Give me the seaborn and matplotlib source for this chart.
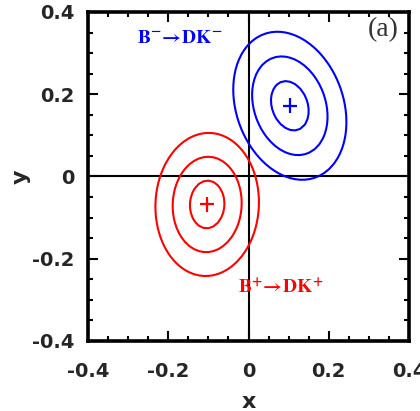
import numpy as np
import pandas as pd
import matplotlib
matplotlib.use("Agg")
import matplotlib.pyplot as plt
import seaborn as sns
from matplotlib.ticker import MultipleLocator, FixedLocator

# ---- data ----
modes = ["B+ -> DK+", "B- -> DK-"]
center_x = [-0.103, 0.103]
center_y = [-0.068, 0.172]
sigma_x = [0.043, 0.047]
sigma_y = [0.058, 0.060]
rho = [0.03, -0.22]
n_sigma_levels = [1, 2, 3]
mode_colors = ["#ff0000", "#0000ff"]
label_text = [r"$\mathbf{B^{+}\!\rightarrow\! DK^{+}}$", r"$\mathbf{B^{-}\!\rightarrow\! DK^{-}}$"]
label_x = [0.081, -0.172]
label_y = [-0.271, 0.339]
tick_values = [-0.4, -0.2, 0, 0.2, 0.4]
tick_labels = ["-0.4", "-0.2", "0", "0.2", "0.4"]

sns.set_style("ticks")
plt.rcParams["font.family"] = ["DejaVu Sans"]
plt.rcParams["mathtext.fontset"] = "stix"

fig = plt.figure(figsize=(4.2, 4.11), dpi=100)
ax = fig.add_axes([88 / 420, 1 - 341 / 411, (409 - 88) / 420, (341 - 12) / 411])

# reference lines
ax.axhline(0, color="black", lw=1.5, zorder=1)
ax.axvline(0, color="black", lw=1.5, zorder=1)

# likelihood contours (1, 2, 3 sigma)
grid = np.arange(-0.4, 0.4001, 0.012)
X, Y = np.meshgrid(grid, grid)
for cx, cy, sx, sy, r, col in zip(center_x, center_y, sigma_x, sigma_y, rho, mode_colors):
    dx = (X - cx) / sx
    dy = (Y - cy) / sy
    chi2 = (dx ** 2 - 2 * r * dx * dy + dy ** 2) / (1 - r ** 2)
    ax.contour(X, Y, np.sqrt(chi2), levels=n_sigma_levels, colors=[col], linewidths=1.5, zorder=2)

# central values
df = pd.DataFrame({"x": center_x, "y": center_y, "mode": modes})
sns.scatterplot(data=df, x="x", y="y", hue="mode", palette=dict(zip(modes, mode_colors)),
                marker="+", s=110, linewidth=1.6, legend=False, ax=ax, zorder=3)

for t, tx, ty, col in zip(label_text, label_x, label_y, mode_colors):
    ax.text(tx, ty, t, color=col, fontsize=14, ha="center", va="center")

ax.text(0.336, 0.358, "(a)", fontsize=20, ha="center", va="center",
        color="#333333", family=["Liberation Serif", "DejaVu Serif"])

ax.set_xlim(-0.4, 0.4)
ax.set_ylim(-0.4, 0.4)
ax.xaxis.set_major_locator(FixedLocator(tick_values))
ax.yaxis.set_major_locator(FixedLocator(tick_values))
ax.set_xticklabels(tick_labels)
ax.set_yticklabels(tick_labels)
ax.xaxis.set_minor_locator(MultipleLocator(0.05))
ax.yaxis.set_minor_locator(MultipleLocator(0.05))
ax.tick_params(which="both", direction="in", top=True, right=True, width=1.5, color="black")
ax.tick_params(which="major", length=7, labelsize=14)
ax.tick_params(which="minor", length=3.5)
ax.tick_params(axis="x", which="major", pad=15)
ax.tick_params(axis="y", which="major", pad=10)
for lab in ax.get_xticklabels() + ax.get_yticklabels():
    lab.set_fontweight("bold")
for sp in ax.spines.values():
    sp.set_visible(True)
    sp.set_linewidth(2.6)
    sp.set_color("black")

ax.set_xlabel("x", fontsize=16, fontweight="bold", labelpad=8)
ax.set_ylabel("y", fontsize=16, fontweight="bold", labelpad=1)

fig.savefig("out.png", dpi=100)
